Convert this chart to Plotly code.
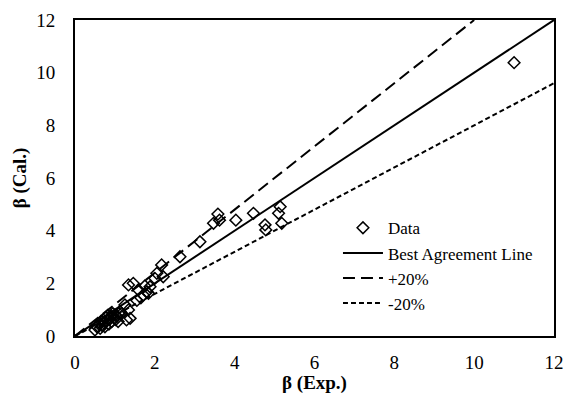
import plotly.graph_objects as go

# Measured vs. calculated beta
beta_exp = [0.50, 0.55, 0.60, 0.63, 0.65, 0.68, 0.70, 0.72, 0.75, 0.78,
            0.80, 0.82, 0.85, 0.88, 0.90, 0.92, 0.95, 0.98, 1.00, 1.02,
            1.05, 1.08, 1.10, 1.13, 1.17, 1.25, 1.29, 1.34, 1.38, 1.34,
            1.46, 1.55, 1.59, 1.65, 1.71, 1.75, 1.80, 1.84, 1.88, 2.00,
            2.05, 2.17, 2.21, 2.63, 3.13, 3.47, 3.58, 3.62, 4.03, 4.47,
            4.76, 4.78, 5.10, 5.14, 5.18, 11.0]
beta_cal = [0.23, 0.35, 0.45, 0.29, 0.55, 0.40, 0.62, 0.50, 0.35, 0.70,
            0.58, 0.78, 0.45, 0.65, 0.75, 0.55, 0.85, 0.70, 0.80, 0.62,
            0.75, 0.55, 0.85, 0.92, 0.86, 1.18, 0.61, 0.99, 0.67, 1.94,
            2.00, 1.35, 1.75, 1.45, 1.56, 1.90, 1.68, 1.62, 1.87, 2.19,
            2.38, 2.70, 2.25, 3.01, 3.58, 4.28, 4.63, 4.40, 4.40, 4.66,
            4.22, 4.03, 4.66, 4.91, 4.28, 10.38]

# Reference lines: y = x and +/-20 % bands
best_x = [0, 12]
best_y = [0, 12]
plus_x = [0, 10]
plus_y = [0, 12]
minus_x = [0, 12]
minus_y = [0, 9.6]

x_ticks = [0, 2, 4, 6, 8, 10, 12]
y_ticks = [0, 2, 4, 6, 8, 10, 12]

font_family = "Liberation Serif"

fig = go.Figure()
fig.add_trace(go.Scatter(
    x=beta_exp, y=beta_cal, mode="markers", name="Data",
    marker=dict(symbol="diamond-open", size=9, color="black",
                line=dict(width=1.5, color="black")),
))
fig.add_trace(go.Scatter(
    x=best_x, y=best_y, mode="lines", name="Best Agreement Line",
    line=dict(color="black", width=2),
))
fig.add_trace(go.Scatter(
    x=plus_x, y=plus_y, mode="lines", name="+20%",
    line=dict(color="black", width=2, dash="12px,6px"),
))
fig.add_trace(go.Scatter(
    x=minus_x, y=minus_y, mode="lines", name="-20%",
    line=dict(color="black", width=2, dash="5px,3px"),
))

axis_common = dict(
    range=[0, 12],
    showgrid=False,
    zeroline=False,
    showline=True,
    linecolor="black",
    linewidth=2,
    mirror=True,
    ticks="",
    automargin=False,
    tickfont=dict(family=font_family, size=19, color="black"),
)

fig.update_layout(
    width=567,
    height=394,
    margin=dict(l=75, r=13, t=20, b=58),
    paper_bgcolor="white",
    plot_bgcolor="white",
    font=dict(family=font_family, color="black"),
    xaxis=dict(**axis_common, tickvals=x_ticks, ticklabelstandoff=8,
               title=dict(text="<b>β (Exp.)</b>", standoff=2,
                          font=dict(family=font_family, size=19))),
    yaxis=dict(**axis_common, tickvals=y_ticks, ticklabelstandoff=14,
               title=dict(text="<b>β (Cal.)</b>", standoff=5,
                          font=dict(family=font_family, size=19))),
    legend=dict(
        x=0.549, y=0.398, xanchor="left", yanchor="top",
        bgcolor="rgba(0,0,0,0)",
        font=dict(family=font_family, size=17, color="black"),
        itemwidth=40,
        tracegroupgap=0,
    ),
    showlegend=True,
)

fig.write_html("out.html")
